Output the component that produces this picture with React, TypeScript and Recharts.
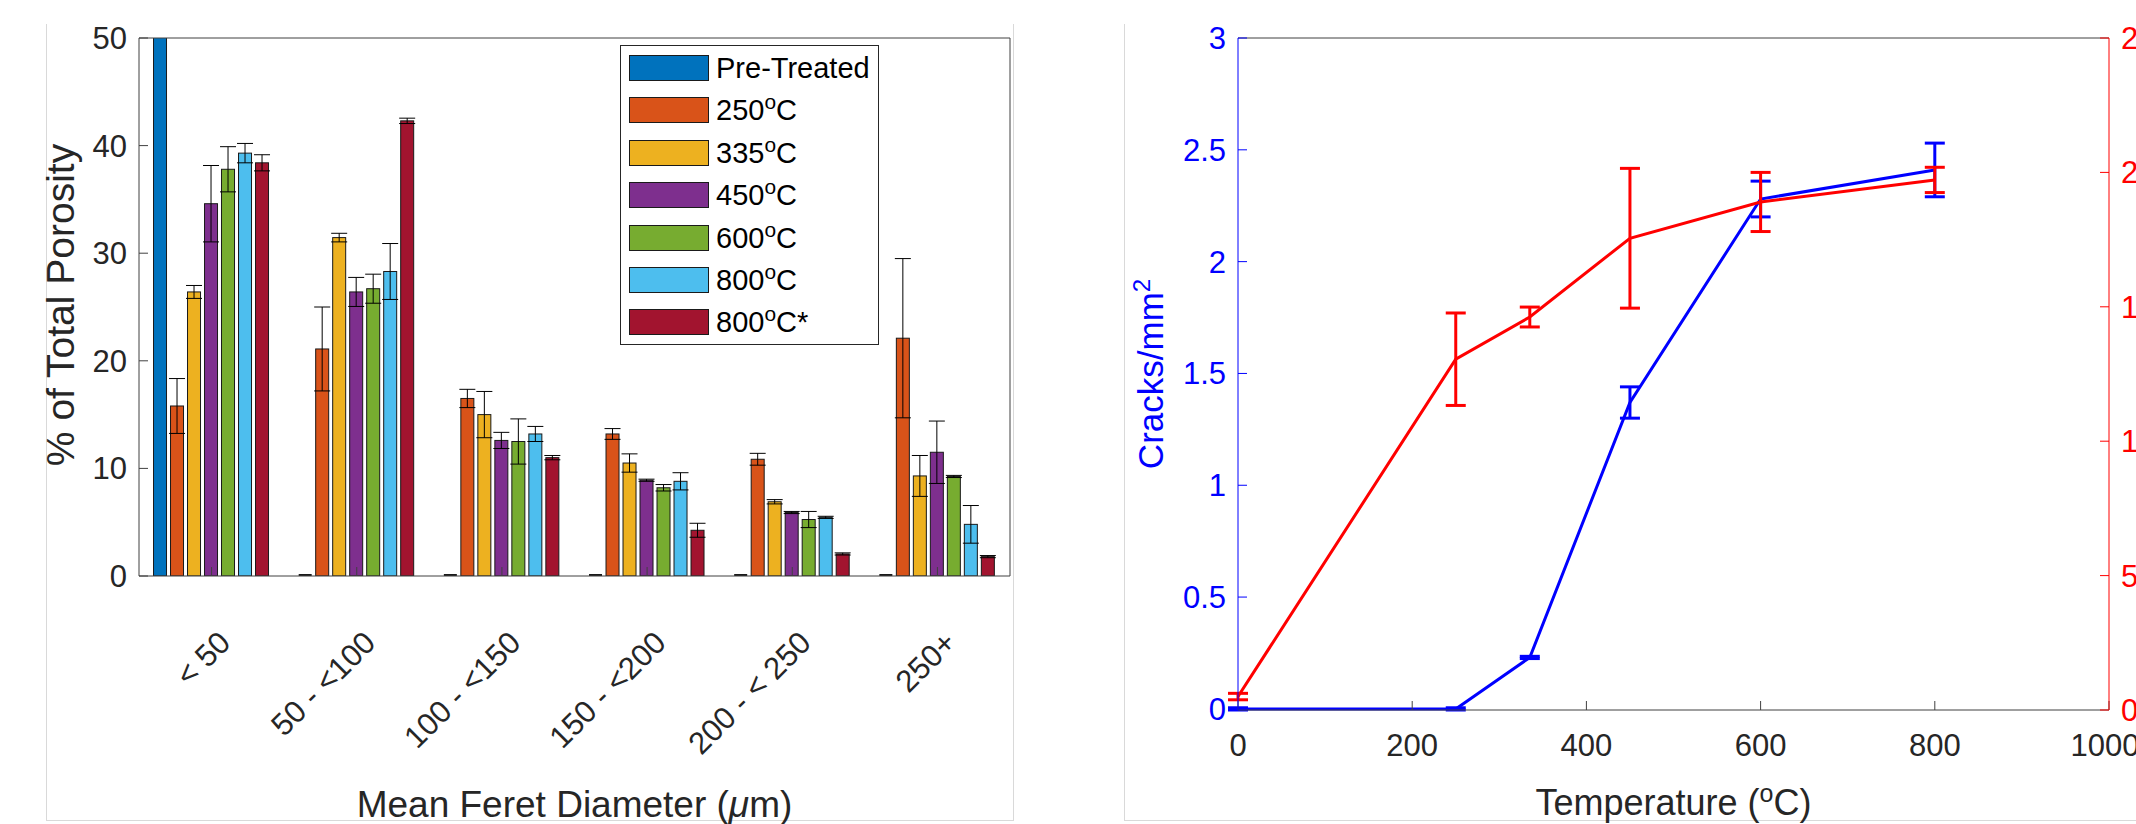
import React from 'react'
import { BarChart, Bar, ErrorBar, XAxis, YAxis, LineChart, Line } from 'recharts'

const FONT = '"Liberation Sans", Arial, Helvetica, sans-serif'
const INK = '#262626'
const AXIS = '#404040'

// ---- left panel: pore size distribution ----
const sizeBins = ['< 50', '50 - <100', '100 - <150', '150 - <200', '200 - < 250', '250+']
const seriesNames = ['Pre-Treated', '250°C', '335°C', '450°C', '600°C', '800°C', '800°C*']
const seriesColors = ['#0072BD', '#D95319', '#EDB120', '#7E2F8E', '#77AC30', '#4DBEEE', '#A2142F']

const preTreated = [100, 0, 0, 0, 0, 0]
const preTreatedErr = [0, 0, 0, 0, 0, 0]
const t250 = [15.8, 21.1, 16.5, 13.2, 10.85, 22.1]
const t250Err = [2.55, 3.9, 0.85, 0.5, 0.55, 7.4]
const t335 = [26.4, 31.45, 15.0, 10.5, 6.9, 9.3]
const t335Err = [0.6, 0.4, 2.15, 0.85, 0.2, 1.9]
const t450 = [34.6, 26.4, 12.6, 8.9, 5.9, 11.5]
const t450Err = [3.55, 1.35, 0.75, 0.1, 0.1, 2.9]
const t600 = [37.8, 26.7, 12.5, 8.2, 5.25, 9.25]
const t600Err = [2.1, 1.35, 2.1, 0.3, 0.75, 0.1]
const t800 = [39.3, 28.3, 13.2, 8.8, 5.45, 4.8]
const t800Err = [0.9, 2.6, 0.7, 0.8, 0.1, 1.75]
const t800s = [38.4, 42.3, 11.0, 4.25, 2.05, 1.8]
const t800sErr = [0.75, 0.25, 0.2, 0.65, 0.1, 0.1]

const porosityTicks = [0, 10, 20, 30, 40, 50]

// ---- right panel: cracks vs temperature ----
const temps = [0, 250, 335, 450, 600, 800]
const cracks = [0, 0, 0.23, 1.37, 2.28, 2.41]
const cracksErr = [0.005, 0.005, 0.005, 0.07, 0.08, 0.12]
const redVals = [0.5, 13.05, 14.62, 17.55, 18.9, 19.72]
const redErr = [0.12, 1.72, 0.37, 2.6, 1.1, 0.47]

const tempTicks = [0, 200, 400, 600, 800, 1000]
const crackTicks = [0, 0.5, 1, 1.5, 2, 2.5, 3]
const redTicks = [0, 5, 10, 15, 20, 25]

const allValues = [preTreated, t250, t335, t450, t600, t800, t800s]
const allErrors = [preTreatedErr, t250Err, t335Err, t450Err, t600Err, t800Err, t800sErr]

const barRows = sizeBins.map((bin, i) => {
  const row: Record<string, any> = { bin }
  allValues.forEach((vals, s) => {
    row['s' + s] = vals[i]
    row['e' + s] = allErrors[s][i]
  })
  return row
})

const lineRows = temps.map((t, i) => ({
  t,
  cracks: cracks[i],
  cracksErr: cracksErr[i],
  red: redVals[i],
  redErr: redErr[i],
}))

const tickFont = { fill: INK, fontSize: 31, fontFamily: FONT }

function RotatedTick(props: any) {
  const { x, y, payload } = props
  return (
    <g transform={`translate(${x + 5},${y})`}>
      <text transform="rotate(-45)" textAnchor="end" dy={22} fill={INK} fontSize={31} fontFamily={FONT}>
        {payload.value}
      </text>
    </g>
  )
}

// zero-height bars show up as a short black dash on the axis, like matlab does
function EdgedBar(props: any) {
  const { x, y, width, height, fill, value } = props
  if (width == null || height == null) return null
  const top = height < 0 ? y + height : y
  const h = Math.abs(height)
  const v = Array.isArray(value) ? value[1] - value[0] : value
  if (!v) {
    return <rect x={x} y={top} width={width} height={Math.max(h, 2)} fill="#1a1a1a" />
  }
  return <rect x={x} y={top} width={width} height={h} fill={fill} stroke="#1a1a1a" strokeWidth={1} />
}

function withDegree(label: string) {
  const parts = label.split('°')
  if (parts.length === 1) return label
  return (
    <>
      {parts[0]}
      <sup style={{ fontSize: '0.72em', verticalAlign: '0.55em', lineHeight: 0 }}>o</sup>
      {parts[1]}
    </>
  )
}

function PorosityLegend() {
  return (
    <div
      style={{
        position: 'absolute', left: 620, top: 45, width: 259, height: 300,
        border: '1px solid #262626', background: '#fff', boxSizing: 'border-box',
        fontFamily: FONT, fontSize: 29, color: '#000',
      }}
    >
      {seriesNames.map((name, i) => {
        const cy = 22 + i * 42.4
        return (
          <div key={name}>
            <div
              style={{
                position: 'absolute', left: 8, top: cy - 13, width: 80, height: 26,
                background: seriesColors[i], border: '1px solid #1a1a1a', boxSizing: 'border-box',
              }}
            />
            <div style={{ position: 'absolute', left: 95, top: cy - 17, lineHeight: '34px', whiteSpace: 'nowrap' }}>
              {withDegree(name)}
            </div>
          </div>
        )
      })}
    </div>
  )
}

function PorosityChart() {
  return (
    <BarChart
      width={1070}
      height={824}
      data={barRows}
      margin={{ top: 0, right: 0, bottom: 0, left: 0 }}
      barCategoryGap="10%"
      barGap={4}
    >
      <XAxis
        xAxisId="top"
        orientation="top"
        dataKey="bin"
        height={38}
        tick={false}
        tickSize={-9}
        stroke={AXIS}
      />
      <XAxis
        xAxisId="bottom"
        dataKey="bin"
        height={248}
        tickSize={-9}
        tickMargin={62}
        stroke={AXIS}
        interval={0}
        tick={<RotatedTick />}
        label={{
          content: () => (
            <text x={574.5} y={817} textAnchor="middle" fill={INK} fontSize={37} fontFamily={FONT}>
              Mean Feret Diameter (<tspan fontStyle="italic">μ</tspan>m)
            </text>
          ),
        }}
      />
      <YAxis
        yAxisId="left"
        domain={[0, 50]}
        ticks={porosityTicks}
        allowDataOverflow
        width={139}
        tickSize={-9}
        tickMargin={21}
        stroke={AXIS}
        tick={tickFont}
        label={{
          content: () => (
            <text transform="translate(61,305) rotate(-90)" textAnchor="middle" dy={13} fill={INK} fontSize={39} fontFamily={FONT}>
              % of Total Porosity
            </text>
          ),
        }}
      />
      <YAxis
        yAxisId="right"
        orientation="right"
        domain={[0, 50]}
        ticks={porosityTicks}
        width={60}
        tick={false}
        tickSize={-9}
        stroke={AXIS}
      />
      {seriesNames.map((name, s) => (
        <Bar
          key={name}
          name={name}
          dataKey={'s' + s}
          xAxisId="bottom"
          yAxisId="left"
          fill={seriesColors[s]}
          stroke="#1a1a1a"
          strokeWidth={1}
          minPointSize={s === 0 ? 2 : 0}
          shape={EdgedBar}
          isAnimationActive={false}
        >
          <ErrorBar dataKey={'e' + s} width={8} stroke="#000" strokeWidth={1} direction="y" isAnimationActive={false} />
        </Bar>
      ))}
    </BarChart>
  )
}

function CracksChart() {
  return (
    <LineChart width={1066} height={824} data={lineRows} margin={{ top: 0, right: 0, bottom: 0, left: 0 }}>
      <XAxis
        xAxisId="top"
        orientation="top"
        dataKey="t"
        type="number"
        domain={[0, 1000]}
        ticks={tempTicks}
        height={38}
        tick={false}
        tickSize={-9}
        stroke={AXIS}
      />
      <XAxis
        xAxisId="bottom"
        dataKey="t"
        type="number"
        domain={[0, 1000]}
        ticks={tempTicks}
        height={114}
        tickSize={-9}
        tickMargin={33}
        stroke={AXIS}
        tick={tickFont}
        label={{
          content: () => (
            <text x={603.5} y={815} textAnchor="middle" fill={INK} fontSize={36} fontFamily={FONT}>
              Temperature (<tspan dy={-13} fontSize={25}>o</tspan><tspan dy={13}>C)</tspan>
            </text>
          ),
        }}
      />
      <YAxis
        yAxisId="left"
        domain={[0, 3]}
        ticks={crackTicks}
        width={168}
        tickSize={-9}
        tickMargin={21}
        stroke="#0000FF"
        tick={{ ...tickFont, fill: '#0000FF' }}
        label={{
          content: () => (
            <text transform="translate(81,374) rotate(-90)" textAnchor="middle" dy={12} fill="#0000FF" fontSize={35} fontFamily={FONT}>
              Cracks/mm<tspan dy={-13} fontSize={24}>2</tspan>
            </text>
          ),
        }}
      />
      <YAxis
        yAxisId="right"
        orientation="right"
        domain={[0, 25]}
        ticks={redTicks}
        width={27}
        tickSize={-9}
        tickMargin={21}
        stroke="#FF0000"
        tick={{ ...tickFont, fill: '#FF0000' }}
      />
      <Line
        type="linear"
        dataKey="cracks"
        xAxisId="bottom"
        yAxisId="left"
        stroke="#0000FF"
        strokeWidth={3}
        dot={false}
        isAnimationActive={false}
      >
        <ErrorBar dataKey="cracksErr" width={10} stroke="#0000FF" strokeWidth={3} direction="y" isAnimationActive={false} />
      </Line>
      <Line
        type="linear"
        dataKey="red"
        xAxisId="bottom"
        yAxisId="right"
        stroke="#FF0000"
        strokeWidth={3}
        dot={false}
        isAnimationActive={false}
      >
        <ErrorBar dataKey="redErr" width={10} stroke="#FF0000" strokeWidth={3} direction="y" isAnimationActive={false} />
      </Line>
    </LineChart>
  )
}

export default function App() {
  const frame = '#d9d9d9'
  return (
    <div
      style={{
        position: 'absolute', left: 0, top: 0, width: 2136, height: 824,
        background: '#fff', overflow: 'hidden', fontFamily: FONT,
      }}
    >
      {/* faint borders of the two pasted panels */}
      <div style={{ position: 'absolute', left: 46, top: 24, width: 966, height: 796, borderLeft: `1px solid ${frame}`, borderBottom: `1px solid ${frame}`, borderRight: `1px solid ${frame}` }} />
      <div style={{ position: 'absolute', left: 1124, top: 24, width: 1012, height: 796, borderLeft: `1px solid ${frame}`, borderBottom: `1px solid ${frame}` }} />
      <div style={{ position: 'absolute', left: 0, top: 0 }}>
        <PorosityChart />
      </div>
      <div style={{ position: 'absolute', left: 1070, top: 0 }}>
        <CracksChart />
      </div>
      <PorosityLegend />
    </div>
  )
}
